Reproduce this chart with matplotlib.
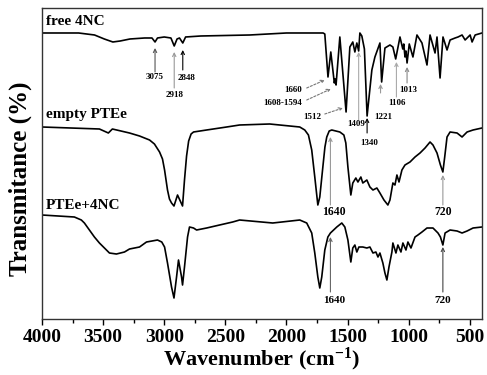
import matplotlib
matplotlib.use("Agg")
import matplotlib.pyplot as plt
from matplotlib.ticker import MultipleLocator

plt.rcParams["mathtext.fontset"] = "custom"
plt.rcParams["mathtext.rm"] = "Liberation Serif:bold"
plt.rcParams["mathtext.bf"] = "Liberation Serif:bold"
plt.rcParams["mathtext.it"] = "Liberation Serif:bold:italic"

# FTIR spectra, stacked (transmittance in arbitrary offset units)
wn_free = [4000, 3700, 3570, 3490, 3420, 3360, 3280, 3160, 3100, 3075, 3055, 3000,
           2945, 2918, 2895, 2875, 2848, 2825, 2700, 2300, 2000, 1700, 1686,
           1660, 1637, 1608, 1601, 1594, 1563, 1512, 1481, 1457, 1440, 1424,
           1409, 1399, 1383, 1362, 1340, 1301, 1276, 1235, 1221, 1194, 1153,
           1129, 1106, 1071, 1048, 1040, 1030, 1022, 1013, 995, 965, 932, 891,
           850, 825, 784, 768, 743, 719, 686, 661, 620, 596, 563, 538, 497,
           481, 456, 400]
t_free = [286, 286, 284, 280, 277, 278, 280, 281, 281, 277, 281, 282,
          281, 273, 280, 281, 276, 282, 283, 284, 286, 286, 285,
          242, 267, 236, 240, 234, 282, 207, 272, 277, 267, 276,
          268, 286, 283, 270, 203, 249, 262, 276, 237, 271, 274,
          272, 260, 282, 270, 275, 262, 268, 256, 275, 262, 284, 276,
          254, 284, 266, 282, 241, 282, 269, 279, 281, 282, 284, 279, 284,
          277, 284, 286]

wn_empty = [4000, 3530, 3457, 3424, 3284, 3202, 3120, 3080, 3038, 3014, 2997,
            2973, 2957, 2940, 2920, 2891, 2850, 2834, 2817, 2800, 2780, 2760,
            2653, 2489, 2383, 2137, 1891, 1850, 1820, 1793, 1768, 1743, 1727,
            1702, 1685, 1670, 1650, 1629, 1563, 1530, 1514, 1497, 1473, 1457,
            1432, 1415, 1391, 1375, 1342, 1317, 1292, 1260, 1235, 1202, 1170,
            1153, 1129, 1112, 1096, 1079, 1055, 1030, 989, 948, 907, 866, 825,
            801, 768, 740, 720, 705, 686, 661, 604, 563, 522, 473, 400]
t_empty = [192, 190, 186, 190, 186, 183, 179, 175, 167, 160, 149,
           129, 120, 116, 113, 124, 113, 139, 163, 178, 185, 187,
           189, 192, 194, 195, 192, 189, 184, 169, 142, 114, 122,
           152, 172, 182, 188, 189, 187, 184, 176, 152, 124, 136,
           141, 137, 142, 136, 139, 132, 129, 131, 126, 119, 114,
           119, 136, 134, 144, 137, 149, 154, 157, 162, 166, 171, 177,
           174, 166, 154, 147, 162, 182, 187, 186, 182, 187, 189, 191]

wn_loaded = [4000, 3735, 3678, 3653, 3612, 3571, 3530, 3489, 3448, 3391, 3325,
             3284, 3202, 3145, 3055, 3020, 2997, 2973, 2940, 2920, 2899, 2883,
             2858, 2850, 2834, 2809, 2793, 2760, 2735, 2653, 2547, 2440, 2383,
             2112, 1891, 1834, 1793, 1768, 1743, 1727, 1711, 1686, 1661, 1640,
             1588, 1547, 1522, 1497, 1473, 1457, 1440, 1424, 1407, 1375, 1342,
             1317, 1292, 1268, 1251, 1235, 1211, 1194, 1178, 1161, 1137, 1129,
             1104, 1088, 1063, 1047, 1022, 1006, 981, 948, 924, 891, 850, 801,
             760, 740, 720, 702, 661, 604, 563, 522, 473, 400]
t_loaded = [104, 102, 99, 96, 89, 82, 76, 71, 66, 65, 67,
            70, 72, 77, 79, 77, 72, 56, 32, 21, 42, 59,
            42, 34, 52, 82, 92, 91, 89, 91, 94, 97, 99,
            96, 99, 96, 86, 66, 42, 31, 42, 69, 82, 86,
            92, 96, 92, 79, 57, 71, 74, 67, 72, 72, 71,
            72, 66, 67, 62, 66, 56, 46, 39, 52, 67, 76,
            66, 74, 67, 76, 69, 77, 71, 82, 84, 87, 91, 91,
            86, 82, 74, 86, 89, 88, 86, 88, 91, 92]

x_ticks = [4000, 3500, 3000, 2500, 2000, 1500, 1000, 500]

serif = ["Liberation Serif", "DejaVu Serif"]

fig = plt.figure(figsize=(4.87, 3.75), dpi=100)
ax = fig.add_axes([0.0862, 0.1493, 0.9035, 0.8294])

lw = 1.2
ax.plot(wn_free, t_free, color="black", lw=lw)
ax.plot(wn_empty, t_empty, color="black", lw=lw)
ax.plot(wn_loaded, t_loaded, color="black", lw=lw)

ax.set_xlim(4000, 400)
ax.set_ylim(0, 311)
ax.set_yticks([])
ax.set_xticks(x_ticks)
ax.xaxis.set_minor_locator(MultipleLocator(250))
ax.tick_params(axis="x", which="major", direction="out", length=4, width=1,
               pad=3, labelsize=14)
ax.tick_params(axis="x", which="minor", direction="out", length=3, width=1)
for lab in ax.get_xticklabels():
    lab.set_fontfamily(serif)
    lab.set_fontweight("bold")
for sp in ax.spines.values():
    sp.set_linewidth(1.0)
    sp.set_color("#333333")

ax.set_xlabel("Wavenumber (cm$^{-1}$)", fontsize=16, fontweight="bold",
              family=serif, labelpad=0)
ax.set_ylabel("Transmitance (%)", fontsize=18, fontweight="bold",
              family=serif)
ax.yaxis.set_label_coords(-0.022, 0.45)

# sample names
for txt, y in [("free 4NC", 297), ("empty PTEe", 204), ("PTEe+4NC", 114)]:
    ax.text(3965, y, txt, fontsize=11, fontweight="bold", family=serif,
            ha="left", va="center")


def arrow(x0, y0, x1, y1, color, ls="-"):
    ax.annotate("", xy=(x1, y1), xytext=(x0, y0),
                arrowprops=dict(arrowstyle="->", color=color, lw=0.8,
                                linestyle=ls, shrinkA=0, shrinkB=0,
                                mutation_scale=6))


def label(x, y, s, size=6.5, ha="center"):
    ax.text(x, y, s, fontsize=size, fontweight="bold", family=serif,
            ha=ha, va="center")


# free 4NC band assignments
arrow(3075, 247, 3075, 271, "#555555")
label(3075, 242, "3075")
arrow(2918, 231, 2918, 267, "#999999")
label(2915, 224, "2918")
arrow(2848, 249, 2848, 269, "black")
label(2817, 241, "2848")

arrow(1834, 231, 1686, 239, "#777777", ls=(0, (2, 1.5)))
label(1875, 229, "1660", ha="right")
arrow(1834, 219, 1637, 230, "#777777", ls=(0, (2, 1.5)))
label(1875, 216, "1608-1594", ha="right")
arrow(1686, 205, 1538, 211, "#777777", ls=(0, (2, 1.5)))
label(1719, 202, "1512", ha="right")

arrow(1409, 199, 1409, 267, "#aaaaaa")
label(1432, 195, "1409")
arrow(1340, 186, 1340, 201, "black")
label(1325, 176, "1340")
arrow(1230, 226, 1230, 235, "#999999")
label(1211, 202, "1221")
arrow(1100, 222, 1100, 257, "#aaaaaa")
label(1096, 216, "1106")
arrow(1013, 236, 1013, 252, "#888888")
label(1000, 229, "1013")

# empty PTEe
arrow(1640, 114, 1640, 182, "#999999")
label(1610, 107, "1640", size=8.5)
arrow(720, 114, 720, 144, "#999999")
label(720, 107, "720", size=8.5)

# PTEe+4NC
arrow(1640, 27, 1640, 82, "#666666")
label(1610, 19, "1640", size=8)
arrow(720, 27, 720, 72, "#444444")
label(720, 19, "720", size=8)

fig.savefig("out.png", dpi=100)
